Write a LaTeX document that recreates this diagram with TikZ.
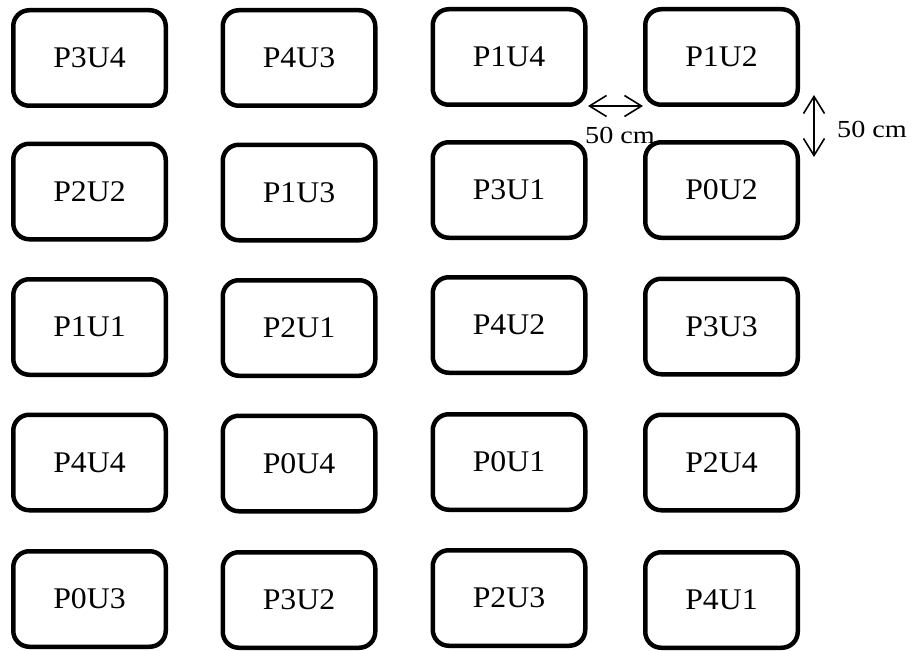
\documentclass[tikz,border=0pt]{standalone}
\usepackage{fontspec}
\setmainfont{Liberation Serif}
\usetikzlibrary{arrows.meta}
\newcommand{\bl}[1]{\scalebox{1.06}[1]{#1}}
\newcommand{\dl}[1]{\scalebox{1.15}[1]{#1}}
\tikzset{
  plot/.style={draw=black, line width=4.5pt, rounded corners=16pt, rectangle,
    minimum width=152.5pt, minimum height=95.5pt, inner sep=0pt, outer sep=0pt,
    fill=white, font=\fontsize{30}{33}\selectfont},
  dimarrow/.style={line width=1.6pt, {Straight Barb[length=17pt,width=21pt]}-{Straight Barb[length=17pt,width=21pt]}},
  dimlabel/.style={anchor=base, inner sep=0pt, font=\fontsize{24.5}{28}\selectfont}
}
\begin{document}
\begin{tikzpicture}[x=1pt,y=-1pt]
\useasboundingbox (0,0) rectangle (912,650);
% row 1
\node[plot] (P3U4) at (89.5,58) {\bl{P3U4}};
\node[plot] (P4U3) at (299,58) {\bl{P4U3}};
\node[plot] (P1U4) at (509,57) {\bl{P1U4}};
\node[plot] (P1U2) at (721.5,57) {\bl{P1U2}};
% row 2
\node[plot] (P2U2) at (89.5,191.5) {\bl{P2U2}};
\node[plot] (P1U3) at (299,192.5) {\bl{P1U3}};
\node[plot] (P3U1) at (509,190) {\bl{P3U1}};
\node[plot] (P0U2) at (721.5,190) {\bl{P0U2}};
% row 3
\node[plot] (P1U1) at (89.5,327) {\bl{P1U1}};
\node[plot] (P2U1) at (299,328) {\bl{P2U1}};
\node[plot] (P4U2) at (509,325) {\bl{P4U2}};
\node[plot] (P3U3) at (721.5,326.5) {\bl{P3U3}};
% row 4
\node[plot] (P4U4) at (89.5,462.5) {\bl{P4U4}};
\node[plot] (P0U4) at (299,463.5) {\bl{P0U4}};
\node[plot] (P0U1) at (509,462) {\bl{P0U1}};
\node[plot] (P2U4) at (721.5,462.5) {\bl{P2U4}};
% row 5
\node[plot] (P0U3) at (89.5,599) {\bl{P0U3}};
\node[plot] (P3U2) at (299,600) {\bl{P3U2}};
\node[plot] (P2U3) at (509,598) {\bl{P2U3}};
\node[plot] (P4U1) at (721.5,600) {\bl{P4U1}};
% dimension arrows
\coordinate (h1) at (588,106);
\coordinate (h2) at (643,106);
\draw[dimarrow] (h1) -- (h2);
\node[dimlabel] (hl) at (620,143) {\dl{50 cm}};
\coordinate (v1) at (814,95);
\coordinate (v2) at (814,157);
\draw[dimarrow] (v1) -- (v2);
\node[dimlabel] (vl) at (872,137) {\dl{50 cm}};
\end{tikzpicture}
\end{document}
